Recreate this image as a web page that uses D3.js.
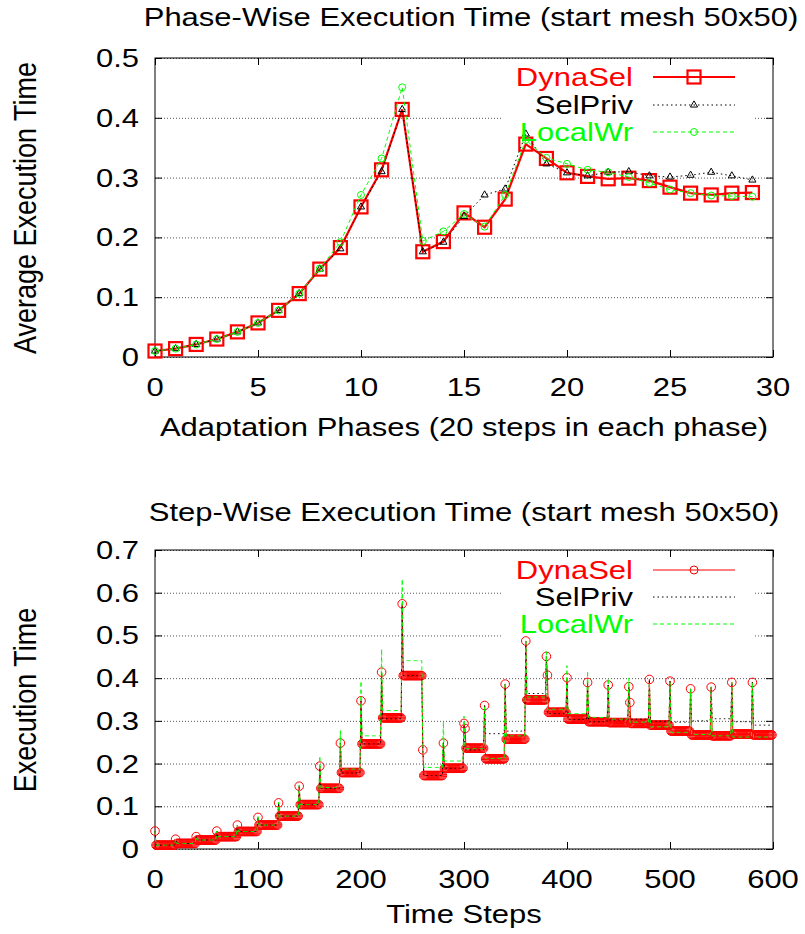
<!DOCTYPE html>
<html lang="en">
<head>
    <meta charset="UTF-8">
    <title>Execution Time</title>
    <script type="text/javascript" src="https://cdn.jsdelivr.net/npm/d3@7/dist/d3.min.js"></script>
    <style>
        body { margin: 0; background: #fff; }
        text { font-family: "Liberation Sans", Arial, sans-serif; }
    </style>
</head>
<body>
<script type="text/javascript">
    // ---- data ----
    // adaptation phases (top chart x)
    let phases = [0, 1, 2, 3, 4, 5, 6, 7, 8, 9, 10, 11, 12, 13, 14, 15, 16, 17, 18, 19,
        20, 21, 22, 23, 24, 25, 26, 27, 28, 29];
    // average execution time per phase
    let phaseDyna = [0.010, 0.014, 0.021, 0.030, 0.042, 0.057, 0.078, 0.106, 0.147, 0.183,
        0.251, 0.313, 0.414, 0.176, 0.193, 0.241, 0.217, 0.264, 0.356, 0.332,
        0.308, 0.302, 0.298, 0.299, 0.295, 0.284, 0.274, 0.271, 0.274, 0.275];
    let phaseSel = [0.010, 0.014, 0.021, 0.030, 0.042, 0.057, 0.078, 0.106, 0.147, 0.181,
        0.251, 0.310, 0.414, 0.176, 0.192, 0.235, 0.271, 0.281, 0.373, 0.323,
        0.308, 0.303, 0.309, 0.310, 0.303, 0.301, 0.304, 0.309, 0.303, 0.296];
    let phaseLocal = [0.010, 0.014, 0.021, 0.030, 0.042, 0.057, 0.078, 0.106, 0.148, 0.192,
        0.271, 0.332, 0.451, 0.194, 0.210, 0.239, 0.218, 0.271, 0.363, 0.333,
        0.323, 0.313, 0.309, 0.301, 0.291, 0.280, 0.274, 0.270, 0.269, 0.268];

    // step-wise chart: every phase is 20 steps, first step of a phase is the spike,
    // the rest sit on a plateau. second = value of the 2nd step where it stands out
    let stepsPerPhase = 20;
    let stepDynaSpike = [0.042, 0.023, 0.029, 0.042, 0.056, 0.074, 0.108, 0.147, 0.194, 0.248,
        0.347, 0.414, 0.574, 0.232, 0.248, 0.294, 0.336, 0.386, 0.487, 0.451,
        0.401, 0.390, 0.384, 0.380, 0.397, 0.393, 0.375, 0.379, 0.390, 0.390];
    let stepDynaSecond = [null, null, null, null, null, null, null, null, null, null,
        null, null, null, null, null, 0.282, null, null, null, 0.407,
        null, null, null, 0.343, null, null, null, null, null, null];
    let stepDynaLevel = [0.009, 0.013, 0.021, 0.029, 0.041, 0.056, 0.077, 0.104, 0.142, 0.179,
        0.246, 0.307, 0.406, 0.172, 0.189, 0.236, 0.211, 0.257, 0.349, 0.320,
        0.304, 0.298, 0.296, 0.294, 0.290, 0.276, 0.267, 0.265, 0.269, 0.267];
    let stepSelSpike = [0.042, 0.023, 0.029, 0.042, 0.056, 0.074, 0.108, 0.147, 0.194, 0.248,
        0.347, 0.410, 0.570, 0.240, 0.250, 0.290, 0.336, 0.386, 0.487, 0.450,
        0.400, 0.390, 0.384, 0.380, 0.397, 0.393, 0.375, 0.379, 0.390, 0.390];
    let stepSelLevel = [0.009, 0.013, 0.021, 0.029, 0.041, 0.056, 0.077, 0.104, 0.142, 0.178,
        0.246, 0.305, 0.406, 0.172, 0.189, 0.232, 0.270, 0.276, 0.364, 0.317,
        0.303, 0.298, 0.302, 0.304, 0.299, 0.297, 0.300, 0.305, 0.298, 0.290];
    let stepLocalSpike = [0.042, 0.023, 0.029, 0.042, 0.056, 0.076, 0.110, 0.150, 0.218, 0.277,
        0.393, 0.468, 0.632, 0.250, 0.298, 0.311, 0.336, 0.390, 0.490, 0.462,
        0.429, 0.417, 0.400, 0.400, 0.390, 0.390, 0.375, 0.380, 0.390, 0.390];
    let stepLocalLevel = [0.009, 0.013, 0.021, 0.029, 0.041, 0.056, 0.077, 0.104, 0.144, 0.187,
        0.265, 0.324, 0.441, 0.191, 0.206, 0.235, 0.212, 0.265, 0.356, 0.327,
        0.317, 0.308, 0.304, 0.297, 0.286, 0.273, 0.268, 0.265, 0.262, 0.262];

    // ticks
    let phaseXTicks = [0, 5, 10, 15, 20, 25, 30];
    let phaseYTicks = [0, 0.1, 0.2, 0.3, 0.4, 0.5];
    let stepXTicks = [0, 100, 200, 300, 400, 500, 600];
    let stepYTicks = [0, 0.1, 0.2, 0.3, 0.4, 0.5, 0.6, 0.7];
    let seriesNames = ['DynaSel', 'SelPriv', 'LocalWr'];

    // ---- drawing ----
    let width = 805, height = 934;
    let svg = d3.select('body').append('svg')
        .attr('width', width)
        .attr('height', height);

    let SX = 1.24;  // the original glyphs are stretched horizontally
    let SY = 1.08;  // ... and a little vertically
    function txt(x, y, s, anchor, color, rot) {
        return svg.append('text')
            .attr('transform', rot
                ? 'translate(' + x + ',' + y + ') rotate(-90) scale(' + SY + ',' + SX + ')'
                : 'translate(' + x + ',' + y + ') scale(' + SX + ',1)')
            .attr('text-anchor', anchor || 'middle')
            .attr('fill', color || '#000')
            .attr('font-size', 25)
            .text(s);
    }

    // one framed panel with gnuplot style grid and inward ticks
    function panel(box, xDom, yDom, xTicks, yTicks, keyBox) {
        let x = d3.scaleLinear().domain(xDom).range([box.x0, box.x1]);
        let y = d3.scaleLinear().domain(yDom).range([box.y1, box.y0]);
        let g = svg.append('g');

        // horizontal grid
        g.append('g')
            .attr('transform', 'translate(' + box.x0 + ',0)')
            .call(d3.axisLeft(y).tickValues(yTicks).tickSize(-(box.x1 - box.x0)).tickFormat(''))
            .call(s => s.select('.domain').remove())
            .selectAll('line')
            .attr('stroke', '#555')
            .attr('stroke-width', 1)
            .attr('stroke-dasharray', '1,2');
        // grid is kept off the key area
        g.append('rect')
            .attr('x', keyBox.x0).attr('y', keyBox.y0)
            .attr('width', keyBox.x1 - keyBox.x0).attr('height', keyBox.y1 - keyBox.y0)
            .attr('fill', '#fff');

        let tick = 7;
        let axes = [
            [d3.axisBottom(x).tickValues(xTicks), 'translate(0,' + box.y1 + ')'],
            [d3.axisTop(x).tickValues(xTicks), 'translate(0,' + box.y0 + ')'],
            [d3.axisLeft(y).tickValues(yTicks), 'translate(' + box.x0 + ',0)'],
            [d3.axisRight(y).tickValues(yTicks), 'translate(' + box.x1 + ',0)']
        ];
        axes.forEach(function (a) {
            g.append('g')
                .attr('transform', a[1])
                .call(a[0].tickSize(-tick).tickFormat(''))
                .call(s => s.select('.domain').remove())
                .selectAll('line').attr('stroke', '#000');
        });
        g.append('rect')
            .attr('x', box.x0).attr('y', box.y0)
            .attr('width', box.x1 - box.x0).attr('height', box.y1 - box.y0)
            .attr('fill', 'none').attr('stroke', '#000').attr('stroke-width', 1);

        // tick labels
        xTicks.forEach(function (v) {
            txt(x(v), box.y1 + 39, String(v), 'middle');
        });
        yTicks.forEach(function (v) {
            txt(box.x0 - 16, y(v) + 9, String(v), 'end');
        });
        return {x: x, y: y, g: g};
    }

    // ================= top: phase-wise =================
    let topBox = {x0: 155, x1: 773, y0: 58, y1: 357};
    let topKey = {x0: 503, x1: 755, y0: 59, y1: 147};
    let p1 = panel(topBox, [0, 30], [0, 0.5], phaseXTicks, phaseYTicks, topKey);

    txt(471, 26, 'Phase-Wise Execution Time (start mesh 50x50)');
    txt(464, 436, 'Adaptation Phases (20 steps in each phase)');
    txt(36, 208, 'Average Execution Time', 'middle', '#000', true);

    let line1 = d3.line()
        .x((d, i) => p1.x(phases[i]))
        .y(d => p1.y(d));

    // DynaSel
    p1.g.append('path').attr('d', line1(phaseDyna))
        .attr('fill', 'none').attr('stroke', '#f00').attr('stroke-width', 2.2);
    p1.g.selectAll('.sq').data(phaseDyna).enter().append('rect')
        .attr('x', (d, i) => p1.x(phases[i]) - 6.5)
        .attr('y', d => p1.y(d) - 6.5)
        .attr('width', 13).attr('height', 13)
        .attr('fill', 'none').attr('stroke', '#f00').attr('stroke-width', 2.2);

    // SelPriv
    let tri = d3.symbol().type(d3.symbolTriangle).size(22);
    p1.g.append('path').attr('d', line1(phaseSel))
        .attr('fill', 'none').attr('stroke', '#000').attr('stroke-width', 1)
        .attr('stroke-dasharray', '1.5,3');
    p1.g.selectAll('.tri').data(phaseSel).enter().append('path')
        .attr('d', tri)
        .attr('transform', (d, i) => 'translate(' + p1.x(phases[i]) + ',' + p1.y(d) + ')')
        .attr('fill', 'none').attr('stroke', '#000').attr('stroke-width', 1);

    // LocalWr
    p1.g.append('path').attr('d', line1(phaseLocal))
        .attr('fill', 'none').attr('stroke', '#0f0').attr('stroke-width', 1)
        .attr('stroke-dasharray', '4,3');
    p1.g.selectAll('.cir').data(phaseLocal).enter().append('circle')
        .attr('cx', (d, i) => p1.x(phases[i]))
        .attr('cy', d => p1.y(d))
        .attr('r', 3.5)
        .attr('fill', 'none').attr('stroke', '#0f0').attr('stroke-width', 1);

    // key
    let keyRows1 = [77, 105, 132];
    txt(633, keyRows1[0] + 9, seriesNames[0], 'end', '#f00');
    txt(633, keyRows1[1] + 9, seriesNames[1], 'end', '#000');
    txt(633, keyRows1[2] + 9, seriesNames[2], 'end', '#0f0');
    svg.append('line').attr('x1', 653).attr('x2', 735).attr('y1', keyRows1[0]).attr('y2', keyRows1[0])
        .attr('stroke', '#f00').attr('stroke-width', 2.2);
    svg.append('rect').attr('x', 694 - 6.5).attr('y', keyRows1[0] - 6.5)
        .attr('width', 13).attr('height', 13)
        .attr('fill', 'none').attr('stroke', '#f00').attr('stroke-width', 2.2);
    svg.append('line').attr('x1', 653).attr('x2', 735).attr('y1', keyRows1[1]).attr('y2', keyRows1[1])
        .attr('stroke', '#000').attr('stroke-dasharray', '1.5,3');
    svg.append('path').attr('d', tri)
        .attr('transform', 'translate(694,' + keyRows1[1] + ')')
        .attr('fill', 'none').attr('stroke', '#000');
    svg.append('line').attr('x1', 653).attr('x2', 735).attr('y1', keyRows1[2]).attr('y2', keyRows1[2])
        .attr('stroke', '#0f0').attr('stroke-dasharray', '4,3');
    svg.append('circle').attr('cx', 694).attr('cy', keyRows1[2]).attr('r', 3.5)
        .attr('fill', 'none').attr('stroke', '#0f0');

    // ================= bottom: step-wise =================
    let botBox = {x0: 155, x1: 773, y0: 550, y1: 849};
    let botKey = {x0: 503, x1: 755, y0: 551, y1: 639};
    let p2 = panel(botBox, [0, 600], [0, 0.7], stepXTicks, stepYTicks, botKey);

    txt(464, 521, 'Step-Wise Execution Time (start mesh 50x50)');
    txt(464, 923, 'Time Steps');
    txt(36, 700, 'Execution Time', 'middle', '#000', true);

    // spread the per-phase readings over the 20 steps of each phase
    function steps(spike, level, second) {
        let out = [];
        level.forEach(function (lv, p) {
            for (let k = 0; k < stepsPerPhase; k++) {
                let v = lv;
                if (k === 0) v = spike[p];
                else if (k === 1 && second && second[p] != null) v = second[p];
                out.push({s: p * stepsPerPhase + k, v: v});
            }
        });
        return out;
    }
    let dynaSteps = steps(stepDynaSpike, stepDynaLevel, stepDynaSecond);
    let selSteps = steps(stepSelSpike, stepSelLevel);
    let localSteps = steps(stepLocalSpike, stepLocalLevel);

    let line2 = d3.line().x(d => p2.x(d.s)).y(d => p2.y(d.v));

    p2.g.append('path').attr('d', line2(dynaSteps))
        .attr('fill', 'none').attr('stroke', '#f00').attr('stroke-width', 1);
    p2.g.selectAll('.dc').data(dynaSteps).enter().append('circle')
        .attr('cx', d => p2.x(d.s))
        .attr('cy', d => p2.y(d.v))
        .attr('r', 4.3)
        .attr('fill', 'none').attr('stroke', '#f00').attr('stroke-width', 1);
    p2.g.append('path').attr('d', line2(selSteps))
        .attr('fill', 'none').attr('stroke', '#000').attr('stroke-width', 1)
        .attr('stroke-dasharray', '1.5,3');
    p2.g.append('path').attr('d', line2(localSteps))
        .attr('fill', 'none').attr('stroke', '#0f0').attr('stroke-width', 1)
        .attr('stroke-dasharray', '4,3');

    let keyRows2 = [570, 597, 624];
    txt(633, keyRows2[0] + 9, seriesNames[0], 'end', '#f00');
    txt(633, keyRows2[1] + 9, seriesNames[1], 'end', '#000');
    txt(633, keyRows2[2] + 9, seriesNames[2], 'end', '#0f0');
    svg.append('line').attr('x1', 653).attr('x2', 735).attr('y1', keyRows2[0]).attr('y2', keyRows2[0])
        .attr('stroke', '#f55').attr('stroke-width', 1.5);
    svg.append('circle').attr('cx', 694).attr('cy', keyRows2[0]).attr('r', 4)
        .attr('fill', 'none').attr('stroke', '#f00');
    svg.append('line').attr('x1', 653).attr('x2', 735).attr('y1', keyRows2[1]).attr('y2', keyRows2[1])
        .attr('stroke', '#000').attr('stroke-dasharray', '1.5,3');
    svg.append('line').attr('x1', 653).attr('x2', 735).attr('y1', keyRows2[2]).attr('y2', keyRows2[2])
        .attr('stroke', '#0f0').attr('stroke-dasharray', '4,3');
</script>
</body>
</html>
